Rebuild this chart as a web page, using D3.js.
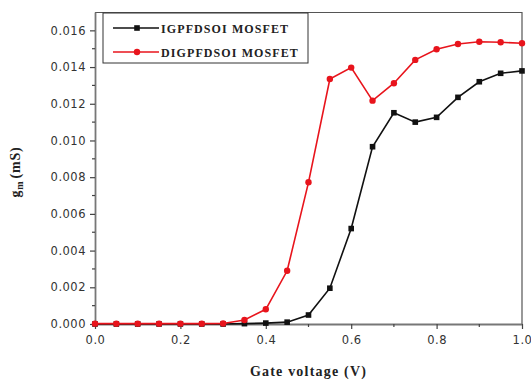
<!DOCTYPE html>
<html>
<head>
<meta charset="utf-8">
<script src="https://cdn.jsdelivr.net/npm/d3@7"></script>
<style>
  html, body { margin: 0; padding: 0; background: #fff; }
  svg { display: block; }
  .tick text { font-family: "DejaVu Sans", sans-serif; font-size: 11.5px; fill: #333; letter-spacing: 0.5px; }
</style>
</head>
<body>
<svg id="chart" width="531" height="381"></svg>
<script>
// Gate voltage sweep (V)
const gateVoltage = [0.00, 0.05, 0.10, 0.15, 0.20, 0.25, 0.30, 0.35, 0.40, 0.45, 0.50,
                     0.55, 0.60, 0.65, 0.70, 0.75, 0.80, 0.85, 0.90, 0.95, 1.00];
// Transconductance gm (mS)
const gmIGPFDSOI = [0, 0, 0, 0, 0, 0, 0, 0.00002, 0.00005, 0.0001, 0.00049,
                    0.00195, 0.0052, 0.00966, 0.01151, 0.0110, 0.01126, 0.01235, 0.0132, 0.01366, 0.01379];
const gmDIGPFDSOI = [0.00002, 0.00002, 0.00002, 0.00002, 0.00002, 0.00002, 0.00003, 0.00022, 0.0008, 0.0029, 0.00772,
                     0.01335, 0.01397, 0.01217, 0.01312, 0.01439, 0.01497, 0.01526, 0.01538, 0.01535, 0.0153];
const seriesNames = ["IGPFDSOI MOSFET", "DIGPFDSOI MOSFET"];
const seriesColors = ["#111111", "#e8141c"];
const xTicks = [0, 0.2, 0.4, 0.6, 0.8, 1.0];
const yTicks = [0, 0.002, 0.004, 0.006, 0.008, 0.010, 0.012, 0.014, 0.016];

const margin = { left: 95, top: 12, right: 9, bottom: 57 };
const W = 531, H = 381;
const iw = W - margin.left - margin.right;
const ih = H - margin.top - margin.bottom;

const svg = d3.select("#chart");
const g = svg.append("g").attr("transform", `translate(${margin.left},${margin.top})`);

const x = d3.scaleLinear().domain([0, 1]).range([0, iw]);
const y = d3.scaleLinear().domain([0, 0.017]).range([ih, 0]);

// Frame: top and right edges
g.append("path")
  .attr("d", `M0,0.5H${iw}V${ih}`)
  .attr("fill", "none").attr("stroke", "#555").attr("stroke-width", 1.2);

// Minor ticks
const xMinor = d3.range(0.1, 1.0, 0.2);
const yMinor = d3.range(0.001, 0.0165, 0.002);

const xAxis = g.append("g").attr("transform", `translate(0,${ih})`)
  .call(d3.axisBottom(x).tickValues(xTicks).tickFormat(d3.format(".1f")).tickSize(5).tickSizeOuter(0));
const yAxis = g.append("g")
  .call(d3.axisLeft(y).tickValues(yTicks).tickFormat(d3.format(".3f")).tickSize(5).tickSizeOuter(0));

[xAxis, yAxis].forEach(a => {
  a.select(".domain").attr("stroke", "#777").attr("stroke-width", 1.8);
  a.selectAll(".tick line").attr("stroke", "#444").attr("stroke-width", 1.2);
});
xAxis.selectAll(".tick text").attr("dy", "1.05em");
yAxis.selectAll(".tick text").attr("x", -9);

g.append("g").selectAll("line").data(xMinor).join("line")
  .attr("x1", d => x(d)).attr("x2", d => x(d))
  .attr("y1", ih).attr("y2", ih + 3)
  .attr("stroke", "#444").attr("stroke-width", 1.2);
g.append("g").selectAll("line").data(yMinor).join("line")
  .attr("y1", d => y(d)).attr("y2", d => y(d))
  .attr("x1", 0).attr("x2", -3)
  .attr("stroke", "#444").attr("stroke-width", 1.2);

// Series
const series = [gmIGPFDSOI, gmDIGPFDSOI];
const line = d3.line().x(d => x(d[0])).y(d => y(d[1]));

series.forEach((vals, i) => {
  const pts = gateVoltage.map((v, k) => [v, vals[k]]);
  g.append("path").datum(pts)
    .attr("d", line).attr("fill", "none")
    .attr("stroke", seriesColors[i]).attr("stroke-width", 1.6);
  if (i === 0) {
    g.append("g").selectAll("rect").data(pts).join("rect")
      .attr("x", d => x(d[0]) - 2.8).attr("y", d => y(d[1]) - 2.8)
      .attr("width", 5.6).attr("height", 5.6)
      .attr("fill", seriesColors[i]);
  } else {
    g.append("g").selectAll("circle").data(pts).join("circle")
      .attr("cx", d => x(d[0])).attr("cy", d => y(d[1])).attr("r", 3.2)
      .attr("fill", seriesColors[i]);
  }
});

// Legend
const lg = svg.append("g").attr("transform", "translate(103,13)");
lg.append("rect").attr("x", 0).attr("y", 0).attr("width", 205).attr("height", 50)
  .attr("fill", "#fff").attr("stroke", "#333").attr("stroke-width", 1);
seriesNames.forEach((name, i) => {
  const cy = 15 + i * 24;
  lg.append("line").attr("x1", 10).attr("x2", 56).attr("y1", cy).attr("y2", cy)
    .attr("stroke", seriesColors[i]).attr("stroke-width", 1.6);
  if (i === 0) {
    lg.append("rect").attr("x", 34 - 2.8).attr("y", cy - 2.8).attr("width", 5.6).attr("height", 5.6)
      .attr("fill", seriesColors[i]);
  } else {
    lg.append("circle").attr("cx", 34).attr("cy", cy).attr("r", 3.2).attr("fill", seriesColors[i]);
  }
  lg.append("text").attr("x", 58).attr("y", cy + 4.5)
    .attr("font-family", "'Liberation Serif', 'Times New Roman', serif")
    .attr("font-weight", "bold").attr("font-size", 12).attr("letter-spacing", 1.1)
    .attr("fill", "#222").text(name);
});

// Axis titles
svg.append("text")
  .attr("x", margin.left + iw / 2).attr("y", 376)
  .attr("text-anchor", "middle")
  .attr("font-family", "'Liberation Serif', 'Times New Roman', serif")
  .attr("font-weight", "bold").attr("font-size", 14).attr("letter-spacing", 1.2)
  .attr("fill", "#222").text("Gate voltage (V)");

const yt = svg.append("text")
  .attr("transform", "translate(20,172) rotate(-90)")
  .attr("text-anchor", "middle")
  .attr("font-family", "'Liberation Serif', 'Times New Roman', serif")
  .attr("font-weight", "bold").attr("font-size", 14).attr("letter-spacing", 0.8)
  .attr("fill", "#222");
yt.append("tspan").text("g");
yt.append("tspan").attr("font-size", 10).attr("dy", 3).text("m");
yt.append("tspan").attr("dy", -3).attr("dx", 2).text("(mS)");
</script>
</body>
</html>
